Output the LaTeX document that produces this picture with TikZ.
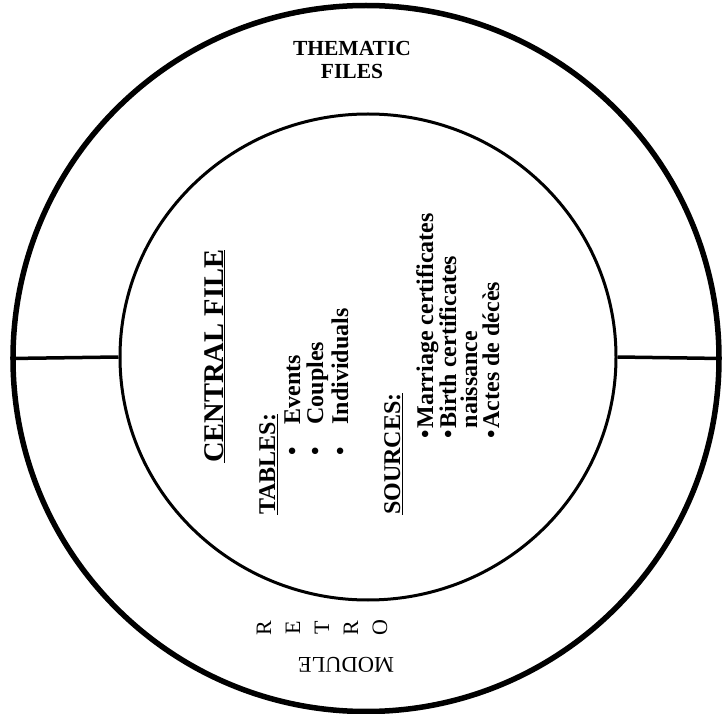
\documentclass[tikz,border=0pt]{standalone}
\usepackage{fontspec}
\setmainfont{Liberation Serif}
\usepackage{tikz}
\usetikzlibrary{shapes.geometric, positioning}
\tikzset{
  ring/.style={draw, circle, inner sep=0pt, line width=5.5pt},
  core/.style={draw, ellipse, inner sep=0pt, line width=3pt},
  divider/.style={line width=3.5pt},
  vtext/.style={rotate=90, anchor=base west, inner sep=0pt},
  headtext/.style={vtext, font=\fontsize{28.5}{30}\selectfont\bfseries},
  itemtext/.style={vtext, font=\fontsize{24}{26}\selectfont\bfseries}
}

\begin{document}
\begin{tikzpicture}[x=1pt, y=-1pt]
  \useasboundingbox (0,0) rectangle (724,714);

  % rings
  \node[ring, minimum size=706pt] (outer) at (366,358.5) {};
  \node[core, minimum width=496pt, minimum height=486pt] (inner) at (368,357) {};
  \draw[divider] (outer.west) -- (inner.west);
  \draw[divider] (inner.east) -- (outer.east);

  % outer ring labels
  \node[align=center, inner sep=0pt, font=\fontsize{21.5}{23}\selectfont\bfseries] (thematic) at (352,59.5) {THEMATIC\\FILES};
  \node[rotate=90, align=center, inner sep=0pt, font=\fontsize{22}{29}\selectfont] (retro) at (322,628) {R\\E\\T\\R\\O};
  \node[rotate=180, inner sep=0pt, font=\fontsize{22.5}{24}\selectfont] (module) at (346,664.5) {MODULE};

  % central file
  \node[headtext] (central) at (223,463) {\underline{CENTRAL FILE}};
  \node[itemtext] (tables) at (275,515) {\underline{TABLES:}};
  \node[itemtext] (events) at (300,456) {\textbullet\hspace{23pt}Events};
  \node[itemtext] (couples) at (323,456) {\textbullet\hspace{23pt}Couples};
  \node[itemtext] (indiv) at (348,456) {\textbullet\hspace{23pt}Individuals};

  \node[itemtext] (sources) at (400,515) {\underline{SOURCES:}};
  \node[itemtext] (marriage) at (433,439) {\textbullet\hspace{2pt}Marriage certificates};
  \node[itemtext] (birth) at (456,439) {\textbullet\hspace{2pt}Birth certificates};
  \node[itemtext] (naiss) at (477,428.5) {naissance};
  \node[itemtext] (actes) at (499,439) {\textbullet\hspace{2pt}Actes de décès};
\end{tikzpicture}
\end{document}
